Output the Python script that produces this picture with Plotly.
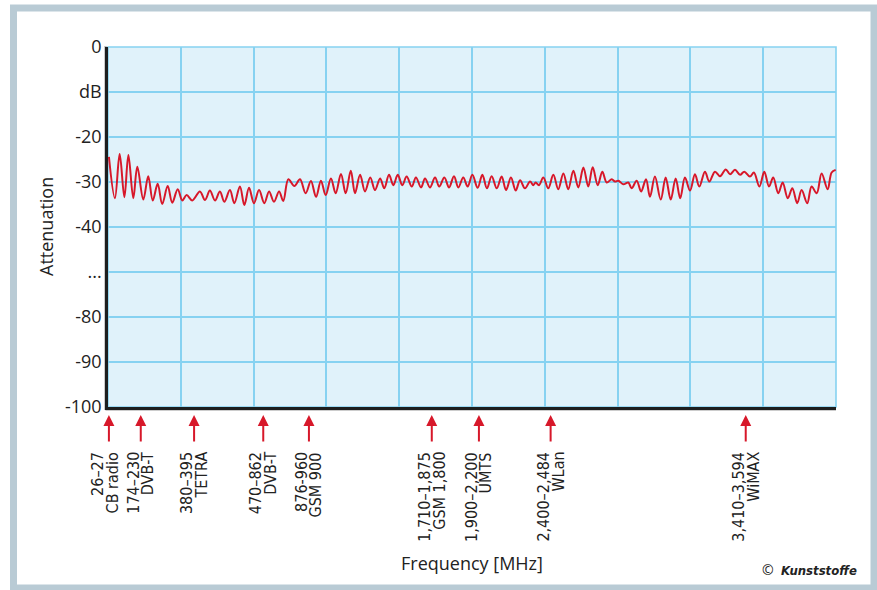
import plotly.graph_objects as go

# ---- data ----
freq_mhz = [5, 38, 64, 90, 112, 139, 161, 194, 221, 246, 273, 298, 328, 353, 383, 408,
            432, 463, 505, 533, 560, 588, 615, 639, 670, 694, 725, 749, 775, 802, 830,
            859, 885, 912, 940, 963, 991, 1024, 1055, 1086, 1115, 1143, 1170, 1196,
            1225, 1251, 1280, 1306, 1334, 1357, 1385, 1412, 1441, 1467, 1495, 1518,
            1544, 1568, 1592, 1617, 1641, 1669, 1692, 1720, 1742, 1769, 1797, 1820,
            1848, 1874, 1901, 1925, 1952, 1976, 2002, 2031, 2057, 2082, 2108, 2136,
            2163, 2187, 2214, 2240, 2264, 2291, 2319, 2337, 2350, 2368, 2392, 2419,
            2447, 2474, 2502, 2529, 2557, 2584, 2612, 2639, 2663, 2691, 2716, 2740,
            2768, 2786, 2804, 2831, 2859, 2877, 2905, 2929, 2956, 2978, 3005, 3037,
            3064, 3092, 3119, 3144, 3170, 3198, 3225, 3249, 3280, 3304, 3335, 3363,
            3394, 3418, 3445, 3473, 3496, 3527, 3549, 3579, 3606, 3632, 3655, 3683,
            3707, 3735, 3760, 3787, 3811, 3842, 3866, 3894, 3921, 3954, 3976, 3998]
attenuation_db = [-24.4, -33.6, -23.8, -33.4, -24.0, -33.6, -26.6, -33.9, -28.7, -34.1,
                  -30.4, -34.9, -30.9, -34.6, -31.6, -34.1, -32.9, -34.1, -32.1, -34.0,
                  -31.9, -34.1, -32.1, -34.4, -31.8, -34.7, -31.0, -35.1, -31.3, -34.7,
                  -31.8, -34.7, -32.1, -34.4, -32.1, -34.2, -29.4, -30.9, -29.4, -32.5,
                  -29.8, -33.3, -29.7, -32.9, -29.2, -32.5, -28.2, -32.5, -27.5, -32.5,
                  -28.4, -32.1, -29.0, -31.8, -29.2, -31.4, -28.4, -30.7, -28.4, -30.7,
                  -28.8, -31.0, -29.0, -31.2, -29.2, -31.2, -29.0, -31.0, -29.0, -31.2,
                  -28.7, -31.2, -29.0, -31.0, -28.4, -31.3, -28.4, -31.4, -28.7, -31.4,
                  -28.8, -31.8, -29.0, -31.9, -29.6, -31.4, -29.9, -30.7, -30.1, -30.7,
                  -29.0, -31.4, -28.4, -31.6, -28.1, -31.6, -27.5, -31.2, -26.8, -31.0,
                  -26.7, -30.7, -27.7, -30.1, -29.4, -29.9, -29.7, -30.5, -30.1, -31.4,
                  -29.7, -32.1, -29.4, -33.3, -28.8, -33.9, -29.0, -33.9, -29.2, -33.6,
                  -29.0, -31.9, -28.3, -31.0, -27.7, -29.9, -27.7, -28.7, -27.2, -28.3,
                  -27.3, -28.4, -27.7, -28.8, -27.9, -31.0, -27.7, -31.0, -29.0, -32.5,
                  -30.1, -33.6, -31.4, -34.7, -31.8, -34.7, -31.0, -32.5, -28.1, -31.6,
                  -27.9, -27.3]

y_tick_vals = [0, -10, -20, -30, -40, -50, -60, -70, -80]
y_tick_text = ["0", "dB", "-20", "-30", "-40", "...", "-80", "-90", "-100"]

band_arrow_mhz = [5, 180, 473, 853, 1104, 1779, 2038, 2432, 3504]
band_range = ["26–27", "174–230", "380–395", "470–862", "876-960",
              "1,710–1,875", "1,900–2,200", "2,400–2,484", "3,410–3,594"]
band_name = ["CB radio", "DVB-T", "TETRA", "DVB-T", "GSM 900",
             "GSM 1,800", "UMTS", "WLan", "WiMAX"]

# ---- style ----
RED = "#d7182a"
GRID = "#86d2f1"
DARK = "#222222"
FRAME = "#b9cbd5"
W, H = 877, 590
L, R, T, B = 108, 836, 47, 407
PW, PH = R - L, B - T
COND = "DejaVu Sans Condensed, DejaVu Sans, sans-serif"


def px(xp):
    return (xp - L) / PW


def py(yp):
    return (B - yp) / PH


fig = go.Figure()
fig.add_trace(go.Scatter(
    x=freq_mhz, y=attenuation_db, mode="lines",
    line=dict(color=RED, width=2, shape="spline", smoothing=1.0),
    hoverinfo="skip", showlegend=False))

shapes = [
    # outer grey frame
    dict(type="rect", xref="paper", yref="paper", x0=px(13.5), x1=px(874),
         y0=py(588), y1=py(8), line=dict(color=FRAME, width=7),
         fillcolor="rgba(0,0,0,0)", layer="below"),
    # light-blue plot border (top / right)
    dict(type="rect", xref="paper", yref="paper", x0=0, x1=1, y0=0, y1=1,
         line=dict(color=GRID, width=1.6), fillcolor="rgba(0,0,0,0)", layer="below"),
    # axis shadow
    dict(type="line", xref="paper", yref="paper", x0=px(105.5), x1=px(105.5),
         y0=py(410), y1=py(46), line=dict(color="rgba(60,60,60,0.35)", width=2.5),
         layer="below"),
    dict(type="line", xref="paper", yref="paper", x0=px(105.5), x1=px(836),
         y0=py(409.5), y1=py(409.5), line=dict(color="rgba(60,60,60,0.35)", width=2.5),
         layer="below"),
]

label_font = dict(family=COND, size=16, color=DARK)
annotations = []
for i, f in enumerate(band_arrow_mhz):
    annotations.append(dict(
        x=f, xref="x", y=py(415), yref="paper", ax=0, ay=28,
        text="", showarrow=True, arrowhead=2, arrowsize=1.1, arrowwidth=2,
        arrowcolor=RED, standoff=0))
    s1, s2 = (-12, 4) if i == 0 else (-8, 7)
    annotations.append(dict(
        x=f, xref="x", y=py(450), yref="paper", text=band_range[i],
        showarrow=False, textangle=-90, xanchor="center", yanchor="top",
        xshift=s1, font=label_font))
    annotations.append(dict(
        x=f, xref="x", y=py(450), yref="paper", text=band_name[i],
        showarrow=False, textangle=-90, xanchor="center", yanchor="top",
        xshift=s2, font=label_font))

annotations.append(dict(
    x=0.5, xref="paper", y=py(563), yref="paper", text="Frequency [MHz]",
    showarrow=False, xanchor="center", yanchor="middle",
    font=dict(family="Open Sans", size=18, color=DARK)))
annotations.append(dict(
    x=px(46), xref="paper", y=0.5, yref="paper", text="Attenuation",
    showarrow=False, textangle=-90, xanchor="center", yanchor="middle",
    font=dict(family="Open Sans", size=18, color=DARK)))
annotations.append(dict(
    x=px(859), xref="paper", y=py(569), yref="paper",
    text="<span style='font-family:Open Sans;font-size:14px'>©</span>  <b><i>Kunststoffe</i></b>",
    showarrow=False, xanchor="right", yanchor="middle",
    font=dict(family=COND, size=13, color=DARK)))

fig.update_layout(
    width=W, height=H,
    margin=dict(l=L, r=W - R, t=T, b=H - B, pad=0),
    paper_bgcolor="white", plot_bgcolor="#e0f2fa",
    shapes=shapes, annotations=annotations,
    xaxis=dict(range=[0, 4000], tick0=0, dtick=400, showticklabels=False,
               showgrid=True, gridcolor=GRID, gridwidth=1.6, zeroline=False,
               showline=True, linecolor="#1e1e1e", linewidth=2.5, ticks=""),
    yaxis=dict(range=[-80, 0], tickmode="array", tickvals=y_tick_vals,
               ticktext=y_tick_text, showgrid=True, gridcolor=GRID, gridwidth=1.6,
               zeroline=False, showline=True, linecolor="#1e1e1e", linewidth=2.5,
               ticks="", ticklabelstandoff=0,
               tickfont=dict(family="Open Sans", size=18, color=DARK)),
)

fig.write_html(
    "out.html",
    config={"displayModeBar": False},
    post_script="document.body.style.margin='0px';document.body.style.overflow='hidden';",
)
